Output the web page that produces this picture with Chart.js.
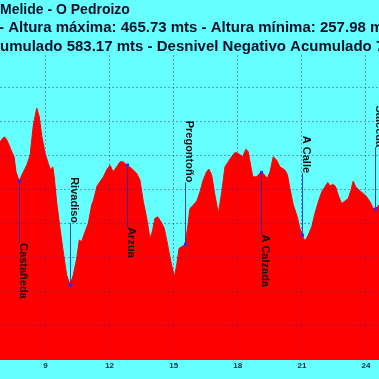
<!DOCTYPE html>
<html><head><meta charset="utf-8">
<script src="https://cdn.jsdelivr.net/npm/chart.js@4.4.1/dist/chart.umd.min.js"></script>
<style>html,body{margin:0;padding:0;background:#66ffff;overflow:hidden}</style>
</head><body>
<canvas id="c" width="379" height="379"></canvas>
<script>
const titleLine1 = "Melide - O Pedroizo";
const titleLine2 = "- Altura máxima: 465.73 mts - Altura mínima: 257.98 mts";
const titleLine3Hidden = "Desnivel Positivo Ac";
const titleLine3 = "Desnivel Positivo Acumulado 583.17 mts - Desnivel Negativo Acumulado 7";

const kmValues = [6.87,7.06,7.15,7.26,7.42,7.53,7.62,7.77,7.89,8.12,8.28,8.43,8.59,8.71,8.82,8.98,9.13,9.24,9.34,9.41,9.52,9.68,9.83,9.99,10.15,10.30,10.46,10.58,10.69,10.85,11.00,11.16,11.25,11.41,11.55,11.71,11.86,12.02,12.17,12.33,12.49,12.64,12.80,13.03,13.27,13.42,13.58,13.74,13.89,14.00,14.12,14.25,14.41,14.56,14.72,14.87,15.03,15.14,15.25,15.37,15.53,15.65,15.76,15.92,16.08,16.23,16.38,16.54,16.65,16.78,16.93,17.09,17.25,17.40,17.55,17.71,17.87,18.02,18.23,18.38,18.49,18.60,18.70,18.88,19.07,19.19,19.38,19.51,19.66,19.82,19.97,20.21,20.33,20.44,20.60,20.76,20.91,21.02,21.14,21.30,21.46,21.61,21.77,21.93,22.08,22.21,22.31,22.47,22.58,22.70,22.86,23.02,23.17,23.30,23.40,23.52,23.67,23.87,24.03,24.19,24.34,24.42,24.61];
const elevValues = [426.1,431.9,430.1,424.5,414.3,408.5,390.9,380.0,387.0,398.7,410.5,445.7,465.7,455.4,433.9,412.5,400.7,392.9,396.7,385.0,355.7,324.5,297.0,269.7,258.0,269.7,289.3,310.8,308.8,320.5,330.3,351.8,357.7,374.1,379.1,385.0,392.9,398.7,390.9,396.7,402.6,402.6,398.7,394.9,389.0,381.1,355.7,336.2,312.8,320.5,336.2,338.1,332.2,324.5,304.9,285.3,267.7,281.4,301.0,302.9,305.7,324.5,347.9,351.8,356.5,367.4,381.1,390.9,394.0,387.0,363.5,342.1,367.4,396.7,402.6,408.5,413.6,412.5,408.5,417.5,414.3,398.7,385.0,385.0,390.2,389.0,383.1,390.9,408.5,404.6,396.7,392.9,387.0,371.4,351.8,340.1,324.5,316.6,309.6,316.6,326.4,342.1,355.7,367.4,373.3,378.4,374.5,376.1,373.3,363.5,353.8,356.5,359.7,369.4,380.0,373.3,369.4,365.5,361.6,355.7,347.9,347.1,351.8];

const xTickValues = [9,12,15,18,21,24];
const yGridValues = [210,250,290,330,370,410,450,490];
const xMin = 6.87, xMax = 24.61, yMin = 170, yMax = 528;

const placeNames = ["Castañeda","Rivadiso","Arzua","Pregontoño","A Calzada","A Calle","Salceda"];
const placeKm = [7.77,10.15,12.80,15.53,19.07,21.02,24.42];
const placeElev = [380.0,258.0,398.7,305.7,390.2,316.6,347.1];

const FONT = '"Liberation Sans", Arial, sans-serif';
const GRID = 'rgba(60,40,140,0.45)';

const titlePlugin = {
  id: 'titleLines',
  beforeDraw(chart) {
    const ctx = chart.ctx;
    ctx.save();
    ctx.fillStyle = '#0a1028';
    ctx.textBaseline = 'alphabetic';
    ctx.textAlign = 'left';
    ctx.font = 'bold 14px ' + FONT;
    ctx.fillText(titleLine1, 0, 14);
    ctx.font = 'bold 15px ' + FONT;
    ctx.fillText(titleLine2, -1, 32);
    const off = ctx.measureText(titleLine3Hidden).width;
    ctx.fillText(titleLine3, -off, 50.5);
    ctx.restore();
  }
};

const placesPlugin = {
  id: 'places',
  afterDraw(chart) {
    const {ctx, scales: {x, y}} = chart;
    ctx.save();
    ctx.font = 'bold 11px ' + FONT;
    placeNames.forEach((name, i) => {
      const px = Math.round(x.getPixelForValue(placeKm[i])) + 0.5;
      const py = y.getPixelForValue(placeElev[i]);
      const w = ctx.measureText(name).width;
      const below = placeElev[i] > 360;
      const gap = 62;
      const start = below ? py + gap : py - gap - w;
      ctx.strokeStyle = 'rgba(40,40,170,0.85)';
      ctx.lineWidth = 1;
      ctx.beginPath();
      ctx.moveTo(px, py);
      ctx.lineTo(px, below ? py + gap : py - gap);
      ctx.stroke();
      ctx.save();
      ctx.translate(px, start);
      ctx.rotate(Math.PI / 2);
      ctx.fillStyle = '#101010';
      ctx.textBaseline = 'alphabetic';
      ctx.textAlign = 'left';
      ctx.fillText(name, 0, -0.5);
      ctx.restore();
      ctx.fillStyle = '#2a2aff';
      ctx.fillRect(px - 1.5, py - 1.5, 3, 3);
    });
    ctx.restore();
  }
};

new Chart(document.getElementById('c'), {
  type: 'line',
  data: {
    datasets: [{
      data: kmValues.map((k, i) => ({x: k, y: elevValues[i]})),
      fill: 'start',
      backgroundColor: '#ff0000',
      borderColor: '#ff0000',
      borderWidth: 1,
      pointRadius: 0,
      tension: 0
    }]
  },
  options: {
    responsive: false,
    animation: false,
    devicePixelRatio: 1,
    layout: {padding: {top: 55, left: 0, right: 0, bottom: 0}},
    plugins: {legend: {display: false}, tooltip: {enabled: false}, title: {display: false}},
    scales: {
      x: {
        type: 'linear', min: xMin, max: xMax,
        afterBuildTicks: s => { s.ticks = xTickValues.map(v => ({value: v})); },
        afterFit: s => { s.height = 19; },
        grid: {color: GRID, drawTicks: false, z: 1, lineWidth: 1},
        border: {display: false, dash: [2, 2]},
        ticks: {padding: 1, color: '#1a2a45', font: {family: FONT, size: 8, weight: 'bold'}, maxRotation: 0}
      },
      y: {
        min: yMin, max: yMax,
        afterBuildTicks: s => { s.ticks = yGridValues.map(v => ({value: v})); },
        afterFit: s => { s.width = 0; },
        grid: {color: GRID, drawTicks: false, z: 1, lineWidth: 1},
        border: {display: false, dash: [2, 2]},
        ticks: {display: false}
      }
    }
  },
  plugins: [titlePlugin, placesPlugin]
});
</script>
</body></html>
